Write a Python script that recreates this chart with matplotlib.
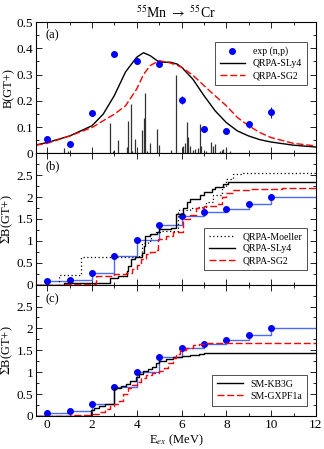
import matplotlib
matplotlib.use('Agg')
import matplotlib.pyplot as plt
import numpy as np
from matplotlib.ticker import MultipleLocator, FormatStrFormatter
from matplotlib.lines import Line2D

plt.rcParams['font.family'] = ['Liberation Serif', 'DejaVu Serif']
plt.rcParams['mathtext.fontset'] = 'stix'

# experiment (n,p)
e_exp = [0, 1, 2, 3, 4, 5, 6, 7, 8, 9, 10]
b_exp = [0.056, 0.036, 0.154, 0.378, 0.353, 0.339, 0.204, 0.093, 0.084, 0.110, 0.156]
b_err = [0.005, 0.006, 0.010, 0.012, 0.012, 0.012, 0.015, 0.010, 0.012, 0.014, 0.020]
sum_exp = [0.077, 0.115, 0.277, 0.654, 1.015, 1.354, 1.56, 1.654, 1.738, 1.854, 2.0]

# smoothed QRPA strength, panel (a)
e_curve = [-0.5, 0, 1, 2, 2.5, 3, 3.5, 4, 4.3, 4.6, 5, 5.5, 5.8, 6, 6.5, 7, 7.5, 8, 8.5, 9, 9.5, 10, 11, 12]
sly4_curve = [0.032, 0.041, 0.066, 0.105, 0.149, 0.22, 0.31, 0.366, 0.383, 0.372, 0.347, 0.347, 0.34,
              0.328, 0.283, 0.22, 0.162, 0.117, 0.085, 0.066, 0.052, 0.043, 0.031, 0.024]
sg2_curve = [0.031, 0.038, 0.066, 0.098, 0.124, 0.149, 0.181, 0.245, 0.30, 0.334, 0.353, 0.344, 0.335,
             0.328, 0.298, 0.258, 0.219, 0.181, 0.136, 0.105, 0.079, 0.060, 0.038, 0.028]

# discrete QRPA-SLy4 strengths
e_stick = [0.74, 0.95, 2.82, 2.94, 3.15, 3.56, 3.6, 3.74, 3.78, 3.93, 4.23, 4.33, 4.39, 4.45, 4.57,
           4.9, 5.01, 5.52, 5.74, 6.08, 6.16, 6.23, 6.3, 6.38, 6.53, 6.6, 6.75, 6.83, 6.88,
           7.08, 7.31, 7.39, 7.49, 7.72, 7.79, 7.86, 7.97, 8.16]
b_stick = [0.022, 0.01, 0.117, 0.01, 0.05, 0.024, 0.124, 0.188, 0.01, 0.054, 0.088, 0.134, 0.23, 0.01,
           0.038, 0.092, 0.03, 0.013, 0.30, 0.028, 0.04, 0.121, 0.064, 0.028, 0.013, 0.015, 0.022,
           0.111, 0.028, 0.009, 0.043, 0.028, 0.034, 0.009, 0.013, 0.015, 0.022, 0.009]

# running sums, panel (b)
e_moel = [-0.5, 0.52, 1.53, 4.1, 4.25, 4.5, 4.65, 4.85, 5.1, 5.85, 6.39, 6.7, 7.1, 7.4, 7.8, 8.0, 8.3, 8.75, 10.0, 12]
s_moel = [0.0, 0.21, 0.63, 0.67, 0.95, 1.0, 1.15, 1.2, 1.22, 1.7, 1.74, 1.77, 1.89, 2.04, 2.23, 2.42, 2.52, 2.56, 2.55, 2.54]
e_sly4 = [-0.5, 0.74, 2.82, 3.15, 3.56, 3.6, 3.74, 3.93, 4.23, 4.33, 4.39, 4.57, 4.9, 5.01, 5.52, 5.74,
          6.08, 6.23, 6.38, 6.83, 7.0, 7.35, 7.5, 7.87, 8.09, 12]
s_sly4 = [0.0, 0.03, 0.15, 0.2, 0.31, 0.42, 0.59, 0.64, 0.73, 0.88, 1.12, 1.15, 1.2, 1.27, 1.3, 1.62,
          1.75, 1.89, 1.96, 2.04, 2.12, 2.19, 2.23, 2.29, 2.35, 2.35]
e_sg2 = [-0.5, 0.74, 2.2, 3.0, 3.5, 3.8, 4.0, 4.2, 4.4, 4.6, 4.8, 4.97, 5.3, 5.6, 6.05, 6.4, 6.65,
         7.0, 7.6, 7.8, 8.0, 8.3, 9.0, 10.5, 12]
s_sg2 = [0.0, 0.02, 0.2, 0.24, 0.27, 0.35, 0.45, 0.58, 0.7, 0.75, 0.8, 1.05, 1.12, 1.2, 1.5, 1.6, 1.75,
         1.8, 1.84, 2.0, 2.1, 2.16, 2.18, 2.2, 2.21]

# running sums, panel (c)
e_kb3g = [-0.5, 0.5, 1.95, 2.1, 2.3, 2.6, 3.0, 3.3, 3.5, 3.7, 3.95, 4.1, 4.3, 4.5, 4.7, 4.85, 5.0,
          5.3, 5.6, 6.0, 6.4, 6.8, 7.0, 12]
s_kb3g = [0.0, 0.01, 0.14, 0.19, 0.23, 0.28, 0.65, 0.68, 0.74, 0.8, 0.9, 0.96, 1.02, 1.07, 1.11, 1.2,
          1.26, 1.31, 1.35, 1.36, 1.39, 1.42, 1.45, 1.45]
e_gxpf = [-0.5, 1.0, 2.0, 2.3, 2.6, 2.8, 3.0, 3.2, 3.4, 3.6, 3.8, 4.0, 4.2, 4.4, 4.7, 5.0, 5.2, 5.4,
          5.6, 5.75, 5.95, 6.2, 6.5, 6.8, 7.0, 12]
s_gxpf = [0.0, 0.02, 0.05, 0.1, 0.15, 0.22, 0.27, 0.35, 0.5, 0.63, 0.7, 0.78, 0.86, 0.93, 0.98, 1.02,
          1.1, 1.22, 1.33, 1.42, 1.5, 1.56, 1.62, 1.65, 1.67, 1.67]

blue = '#0000ff'
step_blue = '#4a6aff'
red = '#ff0000'

fig, axes = plt.subplots(3, 1, figsize=(3.24, 4.49), dpi=100, sharex=True)
fig.subplots_adjust(left=0.111, right=0.975, top=0.951, bottom=0.0735, hspace=0)
ax1, ax2, ax3 = axes


def style(ax, major, minor):
    ax.set_xlim(-0.5, 12)
    ax.xaxis.set_major_locator(MultipleLocator(2))
    ax.xaxis.set_minor_locator(MultipleLocator(1))
    ax.yaxis.set_major_locator(MultipleLocator(major))
    ax.yaxis.set_minor_locator(MultipleLocator(minor))
    ax.tick_params(which='both', direction='in', top=True, right=True, labelsize=9.5, width=0.6, pad=2)
    ax.tick_params(which='major', length=4)
    ax.tick_params(which='minor', length=2)
    ax.yaxis.set_label_coords(-0.075, 0.5)
    for s in ax.spines.values():
        s.set_linewidth(0.8)


def exp_steps(ax):
    xs = [-0.5] + e_exp + [12]
    ys = [0.0] + sum_exp + [sum_exp[-1]]
    ax.step(xs, ys, where='post', color=step_blue, lw=1.0)
    ax.plot(e_exp, sum_exp, 'o', color=blue, ms=4)


def legend(ax, top, handles=None, labels=None):
    kw = dict(loc='upper right', bbox_to_anchor=(0.968, top), fontsize=7, frameon=True,
              fancybox=False, edgecolor='black', handlelength=2.6, borderaxespad=0,
              labelspacing=0.3, borderpad=0.5)
    if handles is None:
        leg = ax.legend(**kw)
    else:
        leg = ax.legend(handles, labels, **kw)
    leg.get_frame().set_linewidth(0.6)


# (a)
ax1.vlines(e_stick, 0, b_stick, color='#333333', lw=0.9)
ax1.errorbar(e_exp, b_exp, yerr=b_err, fmt='o', color=blue, ms=4, elinewidth=0.8, capsize=0)
h_exp = Line2D([], [], ls='none', marker='o', color=blue, ms=4)
h_sly4, = ax1.plot(e_curve, sly4_curve, color='black', lw=1.0)
h_sg2, = ax1.plot(e_curve, sg2_curve, color=red, lw=1.0, dashes=(5, 2))
ax1.set_ylim(0, 0.5)
style(ax1, 0.1, 0.05)
ax1.yaxis.set_major_formatter(FormatStrFormatter('%g'))
ax1.set_ylabel('B(GT+)', fontsize=9)
ax1.text(0.035, 0.9, '(a)', transform=ax1.transAxes, fontsize=9, va='center')
ax1.set_title('$^{55}$Mn $\\rightarrow$ $^{55}$Cr', fontsize=10, pad=3)
legend(ax1, 0.848, [h_exp, h_sly4, h_sg2], ['exp (n,p)', 'QRPA-SLy4', 'QRPA-SG2'])

# (b)
exp_steps(ax2)
ax2.step(e_moel, s_moel, where='post', color='black', lw=0.9, ls=(0, (1, 2)), label='QRPA-Moeller')
ax2.step(e_sly4, s_sly4, where='post', color='black', lw=1.0, label='QRPA-SLy4')
ax2.step(e_sg2, s_sg2, where='post', color=red, lw=1.0, dashes=(5, 2), label='QRPA-SG2')
ax2.set_ylim(0, 3)
style(ax2, 0.5, 0.25)
ax2.set_yticks([0, 0.5, 1, 1.5, 2, 2.5])
ax2.yaxis.set_major_formatter(FormatStrFormatter('%g'))
ax2.set_ylabel('$\\Sigma$B(GT+)', fontsize=9)
ax2.text(0.035, 0.9, '(b)', transform=ax2.transAxes, fontsize=9, va='center')
legend(ax2, 0.435)

# (c)
exp_steps(ax3)
ax3.step(e_kb3g, s_kb3g, where='post', color='black', lw=1.0, label='SM-KB3G')
ax3.step(e_gxpf, s_gxpf, where='post', color=red, lw=1.0, dashes=(5, 2), label='SM-GXPF1a')
ax3.set_ylim(0, 3)
style(ax3, 0.5, 0.25)
ax3.set_yticks([0, 0.5, 1, 1.5, 2, 2.5])
ax3.yaxis.set_major_formatter(FormatStrFormatter('%g'))
ax3.set_ylabel('$\\Sigma$B(GT+)', fontsize=9)
ax3.set_xlabel('E$_{ex}$ (MeV)', fontsize=9, labelpad=1)
ax3.text(0.035, 0.885, '(c)', transform=ax3.transAxes, fontsize=9, va='center')
legend(ax3, 0.313)

fig.savefig('out.png', dpi=100)
